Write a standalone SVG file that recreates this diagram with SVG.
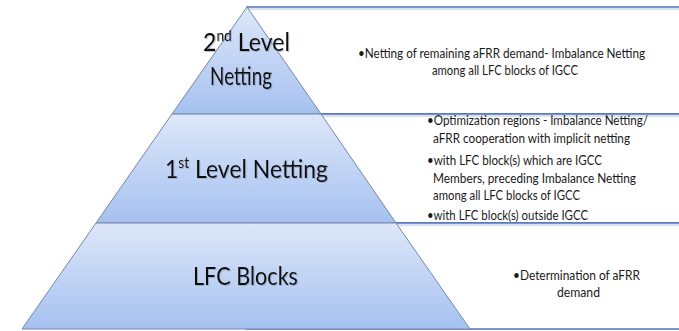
<svg xmlns="http://www.w3.org/2000/svg" width="679" height="331" viewBox="0 0 679 331">
  <defs>
    <linearGradient id="tierFill" x1="0" y1="0" x2="0" y2="1">
      <stop offset="0" stop-color="#dde7f9"/>
      <stop offset="1" stop-color="#a6c1f0"/>
    </linearGradient>
    <filter id="textShadow" x="-10%" y="-10%" width="120%" height="130%">
      <feDropShadow dx="1" dy="1" stdDeviation="0.6" flood-color="#7d8aa0" flood-opacity="0.5"/>
    </filter>
  </defs>
  <style>
    .box { fill: #ffffff; stroke: #4f72b8; stroke-width: 1.5; }
    .boxShade { fill: none; stroke: #b4c3df; stroke-width: 1; }
    .tier { fill: url(#tierFill); stroke: #7488aa; stroke-width: 1; }
    .label { font-family: Lato, "Liberation Sans", sans-serif; font-size: 25px; fill: #111111; text-anchor: middle; }
    .note { font-family: Lato, "Liberation Sans", sans-serif; font-size: 12.5px; fill: #1a1a1a; }
    .mid { text-anchor: middle; }
    .sup { font-size: 15px; }
  </style>

  <rect width="679" height="331" fill="#ffffff"/>

  <!-- description boxes behind the pyramid -->
  <g id="boxes">
    <rect class="box" x="247" y="7" width="460" height="107"/>
    <rect class="box" x="247" y="114" width="460" height="109"/>
    <rect class="box" x="247" y="223" width="460" height="106"/>
    <line class="boxShade" x1="247" y1="9" x2="679" y2="9"/>
    <line class="boxShade" x1="247" y1="116" x2="679" y2="116"/>
    <line class="boxShade" x1="247" y1="225" x2="679" y2="225"/>
  </g>

  <!-- pyramid tiers -->
  <g id="tier-top">
    <polygon class="tier" points="247,7 321,114 172,114"/>
    <text class="label" filter="url(#textShadow)" x="246.5" y="51" textLength="87" lengthAdjust="spacingAndGlyphs">2<tspan class="sup" dy="-10">nd</tspan><tspan dy="10"> Level</tspan></text>
    <text class="label" filter="url(#textShadow)" x="241" y="85" textLength="62" lengthAdjust="spacingAndGlyphs">Netting</text>
  </g>
  <g id="tier-middle">
    <polygon class="tier" points="172,114 321,114 396,223 96,223"/>
    <text class="label" filter="url(#textShadow)" x="246.5" y="178" textLength="163" lengthAdjust="spacingAndGlyphs">1<tspan class="sup" dy="-10">st</tspan><tspan dy="10"> Level Netting</tspan></text>
  </g>
  <g id="tier-base">
    <polygon class="tier" points="96,223 396,223 470,329 22,329"/>
    <text class="label" filter="url(#textShadow)" x="245.5" y="285" textLength="105" lengthAdjust="spacingAndGlyphs">LFC Blocks</text>
  </g>

  <!-- descriptions -->
  <g id="desc-top">
    <text class="note" x="358" y="58" textLength="287" lengthAdjust="spacingAndGlyphs">•Netting of remaining aFRR demand- Imbalance Netting</text>
    <text class="note mid" x="505" y="75" textLength="146" lengthAdjust="spacingAndGlyphs">among all LFC blocks of IGCC</text>
  </g>
  <g id="desc-middle">
    <text class="note" x="427" y="125" textLength="221" lengthAdjust="spacingAndGlyphs">•Optimization regions - Imbalance Netting/</text>
    <text class="note" x="433" y="143" textLength="197" lengthAdjust="spacingAndGlyphs">aFRR cooperation with implicit netting</text>
    <text class="note" x="427" y="165" textLength="175" lengthAdjust="spacingAndGlyphs">•with LFC block(s) which are IGCC</text>
    <text class="note" x="433" y="183" textLength="203" lengthAdjust="spacingAndGlyphs">Members, preceding Imbalance Netting</text>
    <text class="note" x="433" y="200" textLength="147" lengthAdjust="spacingAndGlyphs">among all LFC blocks of IGCC</text>
    <text class="note" x="427" y="220" textLength="161" lengthAdjust="spacingAndGlyphs">•with LFC block(s) outside IGCC</text>
  </g>
  <g id="desc-base">
    <text class="note" x="513" y="280" textLength="127" lengthAdjust="spacingAndGlyphs">•Determination of aFRR</text>
    <text class="note mid" x="578.5" y="297" textLength="43" lengthAdjust="spacingAndGlyphs">demand</text>
  </g>
</svg>
